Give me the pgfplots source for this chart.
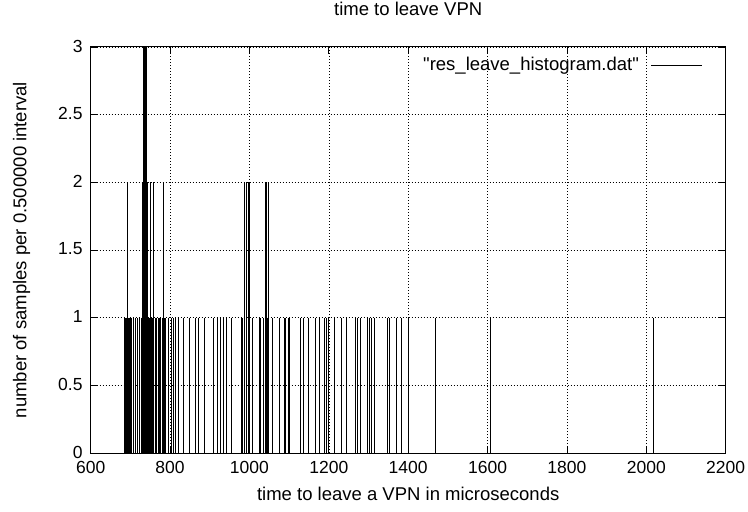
\documentclass[border=0pt]{standalone}
\usepackage{fontspec}
\setmainfont{Liberation Sans}[Ligatures=TeXOff]
\usepackage{pgfplots}
\pgfplotsset{compat=1.18}
\begin{document}
\fontsize{18.5bp}{22bp}\selectfont
\begin{tikzpicture}
\useasboundingbox (-90.7bp,-59bp) rectangle (657.3bp,453bp);
\begin{axis}[
  scale only axis,
  width=635bp, height=406bp,
  xmin=600, xmax=2200, ymin=0, ymax=3,
  xtick={600,800,...,2200},
  ytick={0,0.5,1,1.5,2,2.5,3},
  yticklabels={0,0.5,1,1.5,2,2.5,3},
  scaled ticks=false,
  /pgf/number format/1000 sep={},
  /pgf/number format/assume math mode=true,
  tick pos=both, tick align=inside,
  major tick length=7bp,
  axis line style={line width=1bp},
  every tick/.style={black, line width=0.8bp},
  grid=major,
  major grid style={black, dash pattern=on 1bp off 2bp, line width=0.5bp},
  tick label style={font=\fontsize{17.5bp}{20bp}\selectfont},
  xticklabel style={anchor=base, yshift=-20.5bp, inner sep=0pt},
  yticklabel style={anchor=east, inner sep=0pt, xshift=-8bp, yshift=1bp},
  title={time to leave VPN},
  title style={at={(0.5,1.0640)}, anchor=base, inner sep=0pt},
  xlabel={time to leave a VPN in microseconds},
  xlabel style={at={(0.5,-0.1182)}, anchor=base, inner sep=0pt},
  ylabel={number of samples per 0.500000 interval},
  ylabel style={at={(-0.1087,0.5)}, anchor=center, rotate=0, inner sep=0pt},
  legend plot pos=right,
  legend style={draw=none, fill=none, at={(0.964,0.9557)}, anchor=east,
    inner sep=0pt, column sep=12bp, nodes={inner sep=0pt}},
  legend image code/.code={\draw[#1] (0bp,0bp) -- (51bp,0bp);},
]
\addplot[ycomb, black, line width=0.7bp, mark=none] coordinates {
(686,1) (688,1) (690,1) (693,2) (696,1) (698,1) (700,1) (702,1)
(708,1) (712,1) (717,1) (723,1) (727,1) (729,2) (732,3) (734,3)
(737,3) (740,3) (742,2) (744,2) (746,1) (748,1) (750,2) (752,1)
(756.5,1) (758,2) (762,1) (764,1) (766,1) (770,1) (772,1) (776,1)
(780,1) (782.5,2) (786,1) (788,1) (796.5,1) (802.5,1) (808,1) (814,1)
(821.5,1) (832.5,1) (847.5,1) (863,1) (871.5,1) (886,1) (908,1) (918,1)
(927,1) (933,1) (943,1) (954,1) (979,1) (983,1) (988,2) (992,2)
(996,2) (1000,2) (1007,1) (1025,1) (1028,1) (1035,1) (1040,2) (1042,2)
(1044,1) (1048,2) (1057,1) (1075,1) (1087.5,1) (1090,1) (1097.5,1) (1101,1)
(1127.5,1) (1137,1) (1147.5,1) (1167,1) (1177,1) (1187.5,1) (1193,1) (1198,1)
(1215,1) (1231,1) (1245,1) (1268,1) (1273,1) (1280,1) (1297.5,1) (1301,1)
(1308,1) (1314,1) (1348,1) (1353,1) (1370,1) (1383,1) (1400,1) (1469,1)
(1607.5,1) (2016.5,1)
};
\addlegendentry{"res\_leave\_histogram.dat"}
\end{axis}
\end{tikzpicture}
\end{document}
